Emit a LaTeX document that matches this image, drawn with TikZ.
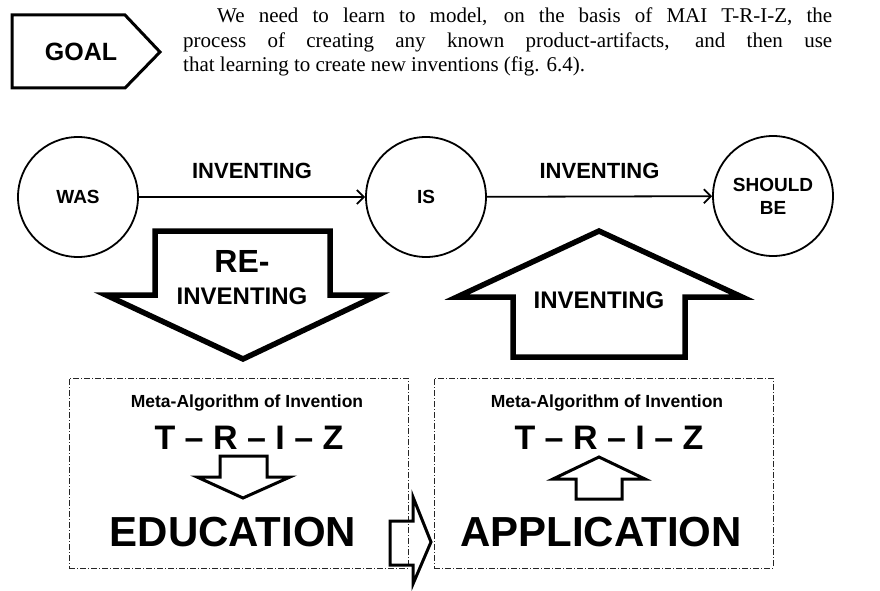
\documentclass[tikz,border=0pt]{standalone}
\usepackage{fontspec}
\setmainfont{Liberation Serif}
\newfontfamily\arial{Liberation Sans}
\usetikzlibrary{arrows.meta}

\begin{document}
\begin{tikzpicture}[x=1pt,y=-1pt,
	stage/.style={circle, draw=black, line width=1.8pt, minimum size=120pt, inner sep=0pt, align=center, font=\arial\bfseries\fontsize{19}{23}\selectfont},
	flowtext/.style={font=\arial\bfseries\fontsize{22}{24}\selectfont},
	dashbox/.style={rectangle, draw=black!85, line width=0.8pt, dash pattern=on 6pt off 2pt on 1pt off 2pt, minimum width=339pt, minimum height=190pt},
	metatext/.style={font=\arial\bfseries\fontsize{17.5}{19}\selectfont},
	triztext/.style={font=\arial\bfseries\fontsize{34}{36}\selectfont},
	bigword/.style={font=\arial\bfseries\fontsize{42}{44}\selectfont},
	blockline/.style={draw=black, line width=5.5pt, line join=miter},
	smallline/.style={draw=black, line width=3pt, line join=miter},
	>={Straight Barb[length=7pt,width=14pt]}]

	\useasboundingbox (0,0) rectangle (880,591);

	%Goal tag and text
	\draw[line width=3pt, line join=miter] (12,15) -- (125,15) -- (160,52) -- (125,88) -- (12,88) -- cycle;
	\node[font=\arial\bfseries\fontsize{25}{27}\selectfont]	(goal)	at (81,52)	{GOAL};
	\node[anchor=north west, inner sep=0pt, text width=649pt, align=justify, font=\fontsize{21}{24.5}\selectfont]	(para)	at (183,8)
		{\hspace*{34pt}We need to learn to model, on the basis of MAI T-R-I-Z, the\linebreak
		process of creating any known product-artifacts, and then use\linebreak
		that learning to create new inventions (fig. 6.4).};

	%Nodes
	\node[stage]	(was)	at (78,197)	{WAS};
	\node[stage]	(is)	at (426,197)	{IS};
	\node[stage]	(should)	at (773,196)	{SHOULD\\BE};

	\node[dashbox]	(edu)	at (238.5,473)	{};
	\node[dashbox]	(app)	at (603.5,473)	{};

	%Lines
	\draw[->, line width=1.8pt] (was) -- node[flowtext, above, yshift=14pt] {INVENTING} (is);
	\draw[->, line width=1.8pt] (is) -- node[flowtext, above, yshift=14pt] {INVENTING} (should);

	%Block arrows
	\draw[blockline] (155,231) -- (330,231) -- (330,295) -- (378,295) -- (243,359) -- (106,295) -- (155,295) -- cycle;
	\node[font=\arial\bfseries\fontsize{32}{34}\selectfont]	(re)	at (242,261)	{RE-};
	\node[flowtext, font=\arial\bfseries\fontsize{24}{26}\selectfont]	(reinv)	at (242,296)	{INVENTING};

	\draw[blockline] (599,231) -- (742,297) -- (685,297) -- (685,357) -- (513,357) -- (513,297) -- (457,297) -- cycle;
	\node[flowtext, font=\arial\bfseries\fontsize{24}{26}\selectfont]	(inv)	at (599,300)	{INVENTING};

	\draw[smallline] (390,521) -- (413,521) -- (413,497) -- (431,542) -- (413,584) -- (413,565) -- (390,565) -- cycle;

	%Box contents
	\node[metatext]	(meta1)	at (247,403)	{Meta-Algorithm of Invention};
	\node[metatext]	(meta2)	at (607,403)	{Meta-Algorithm of Invention};
	\node[triztext]	(triz1)	at (249,438)	{T \textendash{} R \textendash{} I \textendash{} Z};
	\node[triztext]	(triz2)	at (609,438)	{T \textendash{} R \textendash{} I \textendash{} Z};
	\draw[smallline] (220,456) -- (267,456) -- (267,477) -- (290,477) -- (243,498) -- (197,477) -- (220,477) -- cycle;
	\draw[smallline] (599,457) -- (645,479) -- (622,479) -- (622,499) -- (576,499) -- (576,479) -- (553,479) -- cycle;
	\node[bigword]	(educ)	at (233,532)	{EDUCATION};
	\node[bigword]	(appl)	at (601,532)	{APPLICATION};
\end{tikzpicture}
\end{document}
